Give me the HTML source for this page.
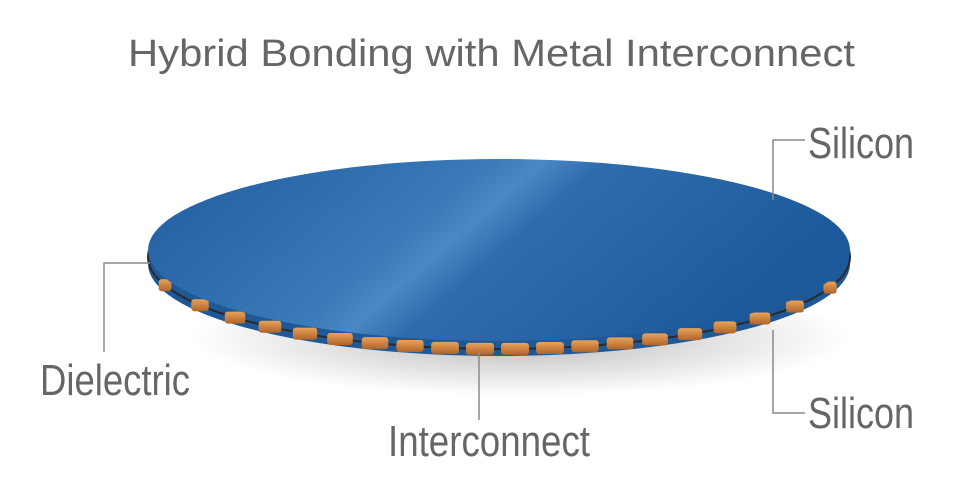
<!DOCTYPE html>
<html><head><meta charset="utf-8"><style>
html,body{margin:0;padding:0;background:#fff;width:957px;height:496px;overflow:hidden}
text{font-family:"Liberation Sans",sans-serif;fill:#666}
</style></head><body>
<svg id="s" width="957" height="496" viewBox="0 0 957 496" xmlns="http://www.w3.org/2000/svg">
<defs>
<linearGradient id="top" x1="0" y1="0" x2="1" y2="0.3">
<stop offset="0" stop-color="#1f5c9e"/>
<stop offset="0.45" stop-color="#3a7ab8"/>
<stop offset="0.52" stop-color="#4a88c2"/>
<stop offset="0.6" stop-color="#2f6cae"/>
<stop offset="1" stop-color="#1d5a9c"/>
</linearGradient>
<radialGradient id="sh" cx="0.5" cy="0.5" r="0.5">
<stop offset="0" stop-color="#000" stop-opacity="0.28"/>
<stop offset="1" stop-color="#000" stop-opacity="0"/>
</radialGradient>
<linearGradient id="bump" x1="0" y1="0" x2="0" y2="1">
<stop offset="0" stop-color="#e9a35a"/>
<stop offset="1" stop-color="#b0642a"/>
</linearGradient>
</defs>
<text x="128" y="66" font-size="38" textLength="727" lengthAdjust="spacingAndGlyphs">Hybrid Bonding with Metal Interconnect</text>
<ellipse cx="520" cy="338" rx="330" ry="58" fill="url(#sh)"/>
<ellipse cx="499" cy="264" rx="351" ry="92" fill="#1e5896"/>
<ellipse cx="499" cy="257" rx="351" ry="92" fill="none" stroke="#2a2a2a" stroke-width="2"/>
<g id="bumps"></g>
<ellipse cx="499" cy="250" rx="351" ry="91" fill="url(#top)"/>
<g stroke="#8a8a8a" stroke-width="1.5" fill="none">
<polyline points="773,200 773,140 805,140"/>
<polyline points="773,330 773,413 805,413"/>
<polyline points="150,263 104,263 104,352"/>
<polyline points="479,352 479,420"/>
</g>
<text x="808" y="158" font-size="44" textLength="106" lengthAdjust="spacingAndGlyphs">Silicon</text>
<text x="808" y="428" font-size="44" textLength="106" lengthAdjust="spacingAndGlyphs">Silicon</text>
<text x="40" y="395" font-size="44" textLength="150" lengthAdjust="spacingAndGlyphs">Dielectric</text>
<text x="388" y="456" font-size="44" textLength="202" lengthAdjust="spacingAndGlyphs">Interconnect</text>
</svg>
<script>
var g=document.getElementById('bumps'),ns='http://www.w3.org/2000/svg';
for(var x=165;x<=835;x+=35){var t=(x-499)/351;if(Math.abs(t)>=1)continue;
var y=257+92*Math.sqrt(1-t*t);var w=22*Math.sqrt(1-t*t)+6;
var r=document.createElementNS(ns,'rect');r.setAttribute('x',x-w/2);r.setAttribute('y',y-6);
r.setAttribute('width',w);r.setAttribute('height',12);r.setAttribute('rx',3);r.setAttribute('fill','url(#bump)');g.appendChild(r);}
</script>
</body></html>
